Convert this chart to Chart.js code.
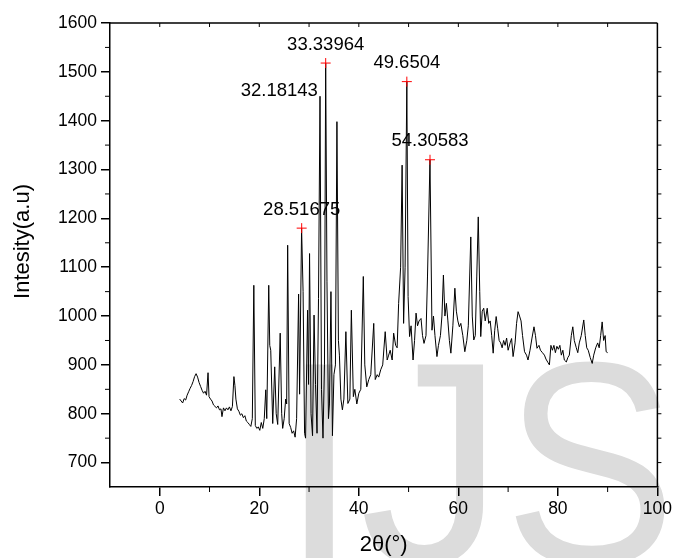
<!DOCTYPE html>
<html>
<head>
<meta charset="utf-8">
<title>XRD pattern</title>
<script src="https://cdn.jsdelivr.net/npm/chart.js@4.4.1/dist/chart.umd.min.js"></script>
<style>
  html, body { margin: 0; padding: 0; background: #fff; }
  #wrap { width: 675px; height: 558px; }
</style>
</head>
<body>
<div id="wrap"><canvas id="xrd" width="675" height="558"></canvas></div>
<script>
// 2theta (deg) and intensity (a.u.)
const twoTheta = [
  4.0, 4.3, 4.6, 4.9, 5.2, 5.5, 5.8, 6.1, 6.4, 6.7, 7.0, 7.3, 7.6, 7.9, 8.2, 8.5, 8.8, 9.1, 9.4, 9.7,
  9.9, 10.2, 10.5, 10.8, 11.1, 11.4, 11.7, 12.0, 12.3, 12.5, 12.8, 13.1, 13.4, 13.7, 14.0, 14.3, 14.6, 14.9,
  15.1, 15.3, 15.6, 15.9, 16.2, 16.5, 16.8, 17.1, 17.4, 17.7, 18.0, 18.3, 18.6, 18.9, 19.2, 19.5, 19.8,
  20.1, 20.4, 20.7, 21.0, 21.3, 21.5, 21.9, 22.1, 22.3, 22.7, 23.1, 23.4, 23.7, 24.2, 24.5, 24.7, 25.0,
  25.3, 25.5, 25.7, 26.0, 26.3, 26.6, 26.9, 27.2, 27.5, 27.9, 28.1, 28.5, 28.8, 29.1, 29.3, 29.7, 29.9,
  30.1, 30.4, 30.7, 31.0, 31.3, 31.6, 31.9, 32.2, 32.5, 32.8, 33.1, 33.34, 33.6, 33.9, 34.1, 34.4, 34.7,
  35.0, 35.3, 35.6, 35.9, 36.1, 36.4, 36.7, 37.0, 37.4, 37.8, 38.2, 38.5, 38.9, 39.2, 39.6, 40.0, 40.4,
  40.9, 41.2, 41.6, 42.0, 42.4, 43.0, 43.3, 43.7, 44.0, 44.4, 44.8, 45.3, 45.7, 46.0, 46.3, 46.7, 47.0,
  47.4, 47.7, 48.0, 48.4, 48.7, 49.0, 49.3, 49.65, 49.9, 50.2, 50.5, 50.9, 51.2, 51.5, 51.8, 52.1, 52.5,
  52.8, 53.1, 53.5, 53.8, 54.3, 54.7, 55.0, 55.3, 55.7, 56.0, 56.4, 56.7, 57.0, 57.3, 57.6, 57.9, 58.2,
  58.5, 58.9, 59.3, 59.6, 59.9, 60.2, 60.5, 60.9, 61.3, 61.7, 62.0, 62.5, 62.8, 63.1, 63.4, 63.7, 64.0,
  64.3, 64.5, 64.8, 65.1, 65.4, 65.8, 66.1, 66.4, 66.7, 67.0, 67.3, 67.6, 67.9, 68.2, 68.5, 68.8, 69.1,
  69.4, 69.7, 70.0, 70.4, 70.7, 71.0, 71.4, 71.7, 72.0, 72.3, 72.6, 72.9, 73.3, 73.7, 74.0, 74.4, 74.8,
  75.2, 75.5, 75.8, 76.2, 76.5, 76.9, 77.3, 77.6, 78.0, 78.3, 78.6, 78.9, 79.2, 79.5, 79.8, 80.1, 80.4,
  80.7, 81.0, 81.3, 81.7, 82.0, 82.3, 82.7, 83.0, 83.3, 83.7, 84.0, 84.3, 84.7, 85.2, 85.5, 85.8, 86.1,
  86.5, 86.9, 87.2, 87.6, 88.0, 88.3, 88.6, 88.9, 89.2, 89.5, 89.7, 90.0
];
const intensity = [
  830, 826, 822, 831, 828, 838, 845, 852, 858, 866, 876, 882, 875, 864, 856, 848, 842, 846, 838, 884,
  835, 830, 826, 818, 815, 812, 816, 808, 810, 794, 812, 806, 812, 808, 814, 806, 815, 876,
  858, 830, 810, 805, 797, 800, 792, 796, 785, 782, 778, 774, 790, 1063, 776, 770, 773,
  766, 782, 770, 790, 849, 790, 1063, 940, 930, 780, 896, 800, 778, 965, 800, 770, 790,
  830, 820, 1145, 780, 772, 760, 765, 752, 790, 1045, 840, 1180, 1050, 760, 750, 1012, 860,
  1128, 800, 755, 1002, 860, 760, 1036, 1450, 850, 750, 900, 1518, 1070, 790, 820, 1050, 755,
  880, 900, 1398, 950, 920, 830, 808, 830, 968, 821, 830, 1012, 835, 850, 820, 842, 850,
  1081, 900, 855, 870, 880, 985, 870, 880, 875, 890, 900, 968, 910, 920, 930, 910, 965,
  940, 935, 1026, 1100, 1309, 985, 1100, 1480, 1040, 958, 980, 910, 950, 1006, 980, 990, 995,
  960, 944, 960, 1080, 1320, 971, 1000, 960, 917, 940, 960, 1000, 1084, 1000, 1026, 990, 950,
  924, 980, 1057, 1010, 990, 978, 985, 960, 927, 950, 980, 1162, 1000, 951, 960, 1080, 1203,
  1050, 958, 1010, 1016, 990, 1016, 985, 990, 960, 924, 970, 999, 975, 950, 945, 935, 950,
  940, 955, 930, 945, 954, 917, 945, 985, 1009, 1000, 990, 960, 927, 920, 910, 930, 955,
  978, 960, 934, 940, 930, 925, 920, 912, 905, 900, 940, 930, 940, 925, 938, 932, 940,
  920, 930, 910, 906, 915, 920, 960, 978, 950, 935, 925, 945, 960, 992, 960, 935, 930,
  915, 903, 920, 935, 945, 935, 960, 988, 950, 960, 927, 925
];

// labelled peaks (red crosses)
const peakPos = [28.51675, 33.33964, 49.6504, 54.30583];
const peakInt = [1180, 1518, 1480, 1320];
const peakLabels = ['28.51675', '33.33964', '49.6504', '54.30583'];
// labelled without a cross
const sidePeakPos = [32.18143];
const sidePeakInt = [1450];
const sidePeakLabels = ['32.18143'];

const xTicks = [0, 20, 40, 60, 80, 100];
const xMinorTicks = [10, 30, 50, 70, 90];
const yTicks = [700, 800, 900, 1000, 1100, 1200, 1300, 1400, 1500, 1600];
const yMinorTicks = [700, 750, 800, 850, 900, 950, 1000, 1050, 1100, 1150, 1200, 1250, 1300, 1350, 1400, 1450, 1500, 1550];

const FONT = '"Liberation Sans", Arial, sans-serif';

const decorPlugin = {
    id: 'decor',
    beforeDraw(chart) {
        // faint journal watermark behind everything
        const ctx = chart.ctx;
        ctx.save();
        ctx.fillStyle = '#dcdcdc';
        ctx.font = '290px ' + FONT;
        ctx.textBaseline = 'alphabetic';
        ctx.textAlign = 'left';
        ctx.fillText('IJ', 279, 564);
        ctx.translate(504, 564);
        ctx.scale(0.89, 1);
        ctx.fillText('S', 0, 0);
        ctx.restore();
    },
    afterDraw(chart) {
        const ctx = chart.ctx;
        const x = chart.scales.x, y = chart.scales.y;
        const a = chart.chartArea;
        ctx.save();
        ctx.strokeStyle = '#000';
        ctx.lineWidth = 1.5;
        ctx.beginPath();
        ctx.moveTo(a.left, a.top); ctx.lineTo(a.right, a.top);
        ctx.moveTo(a.right, a.top); ctx.lineTo(a.right, a.bottom);
        ctx.stroke();

        ctx.lineWidth = 1;
        ctx.beginPath();
        // minor ticks, outward
        xMinorTicks.forEach(v => {
            const px = x.getPixelForValue(v);
            ctx.moveTo(px, a.bottom); ctx.lineTo(px, a.bottom + 5);
        });
        yMinorTicks.forEach(v => {
            if (yTicks.includes(v)) return;
            const py = y.getPixelForValue(v);
            ctx.moveTo(a.left, py); ctx.lineTo(a.left - 5, py);
        });
        // top and right ticks
        xTicks.concat(xMinorTicks).forEach(v => {
            const px = x.getPixelForValue(v);
            if (px >= a.right - 1) return;
            ctx.moveTo(px, a.top); ctx.lineTo(px, a.top + 4);
        });
        yMinorTicks.forEach(v => {
            const py = y.getPixelForValue(v);
            ctx.moveTo(a.right, py); ctx.lineTo(a.right + 4, py);
        });
        ctx.stroke();

        // peak labels
        ctx.fillStyle = '#000';
        ctx.font = '18.5px ' + FONT;
        ctx.textBaseline = 'alphabetic';
        ctx.textAlign = 'center';
        peakPos.forEach((p, i) => {
            ctx.fillText(peakLabels[i], x.getPixelForValue(p), y.getPixelForValue(peakInt[i]) - 13.5);
        });
        ctx.textAlign = 'right';
        sidePeakPos.forEach((p, i) => {
            ctx.fillText(sidePeakLabels[i], x.getPixelForValue(p) - 2, y.getPixelForValue(sidePeakInt[i]));
        });

        // axis titles
        ctx.font = '22px ' + FONT;
        ctx.textAlign = 'center';
        ctx.textBaseline = 'middle';
        ctx.fillText('2\u03b8(\u00b0)', (a.left + a.right) / 2, 545);
        ctx.translate(22.5, 241.5);
        ctx.rotate(-Math.PI / 2);
        ctx.fillText('Intesity(a.u)', 0, 0);
        ctx.restore();
    }
};

const spectrum = twoTheta.map((t, i) => ({ x: t, y: intensity[i] }));
const markers = peakPos.map((p, i) => ({ x: p, y: peakInt[i] }));

new Chart(document.getElementById('xrd'), {
    type: 'line',
    data: {
        datasets: [
            {
                data: markers,
                showLine: false,
                pointStyle: 'cross',
                pointRadius: 5,
                pointBorderColor: '#ff0000',
                pointBorderWidth: 1
            },
            {
                data: spectrum,
                borderColor: '#000',
                borderWidth: 1,
                pointRadius: 0,
                tension: 0,
                fill: false
            }
        ]
    },
    options: {
        responsive: false,
        animation: false,
        events: [],
        layout: { padding: { top: 23, right: 16, bottom: 0, left: 0 } },
        plugins: { legend: { display: false }, tooltip: { enabled: false } },
        scales: {
            x: {
                type: 'linear',
                min: -10,
                max: 100,
                afterBuildTicks: s => { s.ticks = xTicks.map(v => ({ value: v })); },
                afterFit: s => { s.height = 71; },
                grid: { drawOnChartArea: false, color: '#000', lineWidth: 1.5, tickLength: 9 },
                border: { color: '#000', width: 1.5 },
                ticks: { color: '#000', font: { family: FONT, size: 17.5 }, padding: 3, maxRotation: 0,
                         callback: v => String(v) }
            },
            y: {
                type: 'linear',
                min: 650,
                max: 1600,
                afterBuildTicks: s => { s.ticks = yTicks.map(v => ({ value: v })); },
                afterFit: s => { s.width = 110; },
                grid: { drawOnChartArea: false, color: '#000', lineWidth: 1.5, tickLength: 9 },
                border: { color: '#000', width: 1.5 },
                ticks: { color: '#000', font: { family: FONT, size: 17.5 }, padding: 4,
                         callback: v => String(v) }
            }
        }
    },
    plugins: [decorPlugin]
});
</script>
</body>
</html>
